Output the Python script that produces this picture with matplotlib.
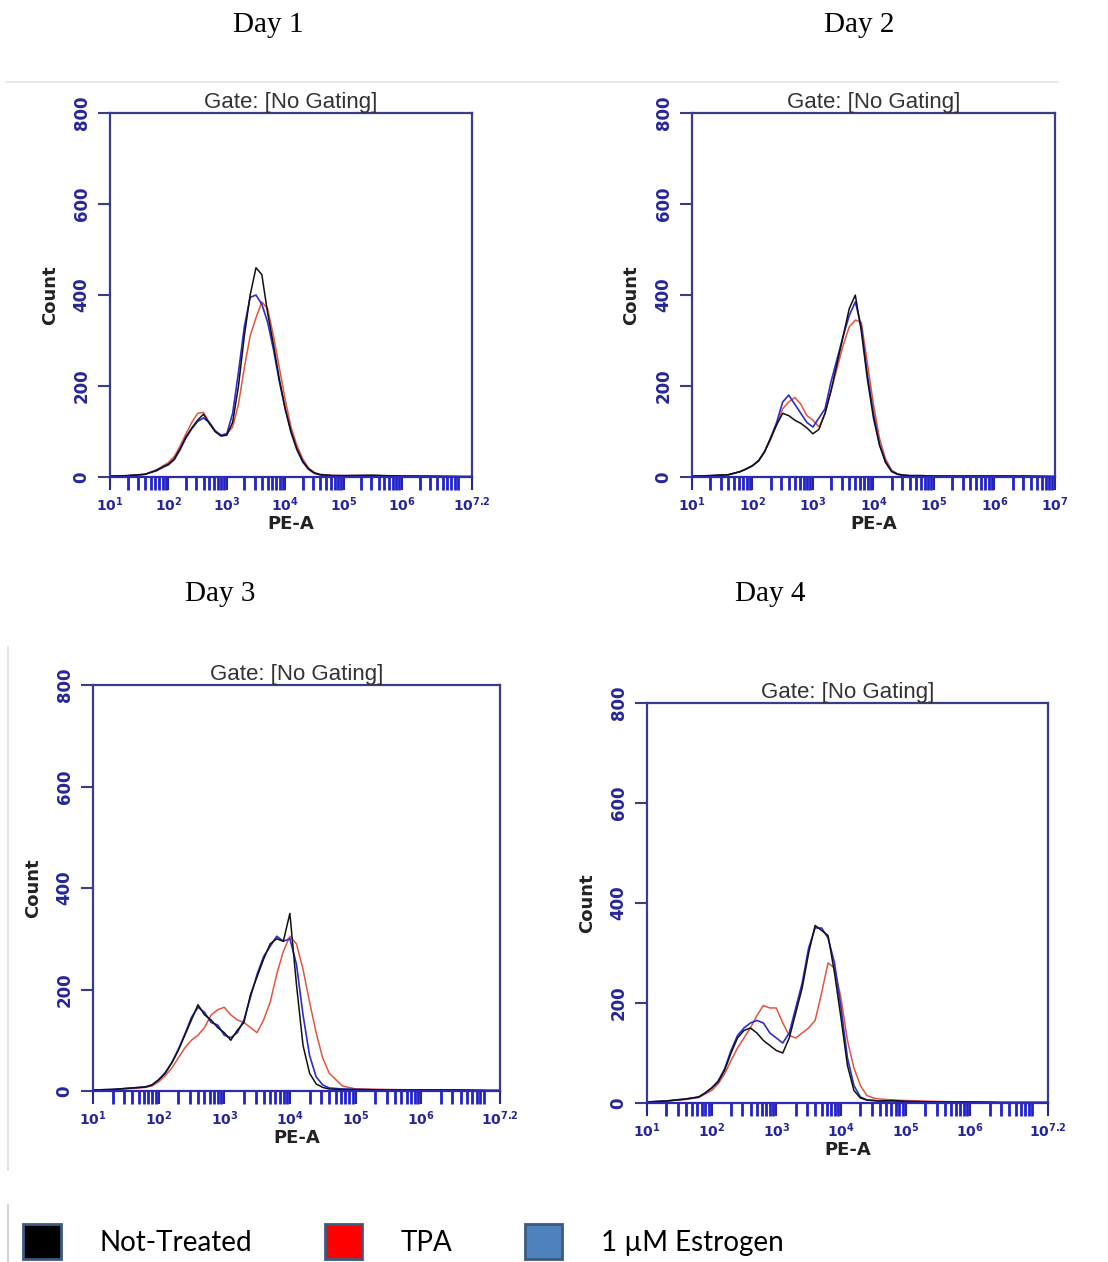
import numpy as np
import matplotlib
matplotlib.use("Agg")
from matplotlib import pyplot as plt
from matplotlib.patches import Patch
from matplotlib.lines import Line2D
from matplotlib.ticker import LogLocator, NullFormatter

# PE-A channel positions (log10 units), shared by every histogram
log_pe = [1.0, 1.3, 1.6, 1.8,
          1.9, 2.0, 2.1, 2.2, 2.3, 2.4, 2.5, 2.6, 2.7, 2.8, 2.9, 3.0, 3.1, 3.2,
          3.3, 3.4, 3.5, 3.6, 3.7, 3.8, 3.9, 4.0, 4.1, 4.2, 4.3, 4.4, 4.5, 4.6,
          4.8, 5.0, 5.5, 6.0, 6.5, 7.0, 7.2]

# Day 1 counts
day1_black = [2, 3, 6, 15, 22, 28, 40, 62, 88, 108, 125, 138, 118, 100, 90, 92, 120, 200,
              310, 400, 460, 445, 360, 290, 215, 150, 100, 62, 35, 18, 9, 5, 3, 3, 4, 2, 2, 1, 1]
day1_red = [2, 3, 6, 16, 24, 32, 45, 68, 95, 120, 140, 142, 120, 100, 92, 95, 110, 160,
            240, 310, 350, 385, 370, 310, 240, 170, 110, 70, 40, 20, 10, 6, 4, 3, 3, 2, 2, 1, 1]
day1_blue = [2, 3, 6, 14, 21, 27, 38, 60, 86, 106, 122, 130, 120, 102, 92, 95, 140, 230,
             330, 395, 400, 380, 340, 280, 210, 150, 98, 60, 33, 17, 8, 5, 3, 3, 3, 2, 1, 1, 1]

# Day 2 counts
day2_black = [2, 3, 5, 12, 18, 25, 35, 55, 85, 115, 140, 135, 125, 118, 108, 95, 105, 140,
              190, 250, 310, 370, 400, 320, 215, 130, 70, 32, 12, 6, 4, 3, 3, 2, 2, 2, 2, 1, 1]
day2_red = [2, 3, 5, 12, 18, 24, 36, 56, 82, 115, 150, 165, 175, 160, 135, 125, 110, 140,
            190, 240, 290, 330, 345, 340, 250, 160, 85, 40, 15, 7, 4, 3, 3, 2, 2, 3, 2, 1, 1]
day2_blue = [2, 3, 5, 12, 18, 25, 36, 56, 86, 120, 165, 180, 160, 140, 120, 110, 130, 150,
             210, 260, 310, 355, 385, 330, 225, 140, 72, 34, 13, 6, 4, 3, 3, 2, 2, 2, 2, 1, 1]

# Day 3 counts
day3_black = [2, 3, 6, 8, 12, 22, 35, 55, 80, 110, 140, 170, 150, 140, 125, 115, 100, 120,
              135, 190, 225, 260, 290, 300, 295, 350, 210, 90, 35, 14, 7, 4, 3, 3, 2, 2, 2, 1, 1]
day3_red = [2, 3, 5, 7, 10, 18, 30, 45, 65, 85, 100, 110, 125, 150, 160, 165, 150, 140,
            135, 125, 115, 140, 175, 230, 275, 305, 290, 240, 175, 115, 65, 35, 10, 4, 3, 2, 2, 1, 1]
day3_blue = [2, 3, 6, 8, 12, 22, 36, 56, 82, 112, 145, 165, 155, 135, 130, 110, 105, 115,
             140, 185, 230, 265, 285, 305, 295, 300, 250, 150, 70, 28, 12, 6, 4, 3, 2, 2, 2, 1, 1]

# Day 4 counts
day4_black = [2, 4, 8, 12, 20, 30, 42, 65, 100, 130, 145, 150, 140, 125, 115, 105, 100, 130,
              180, 230, 300, 355, 345, 335, 260, 170, 75, 25, 10, 6, 5, 4, 5, 3, 2, 2, 1, 1, 1]
day4_red = [2, 4, 7, 11, 18, 25, 38, 58, 85, 110, 130, 150, 175, 195, 190, 190, 160, 135,
            130, 140, 150, 165, 220, 280, 270, 210, 125, 70, 35, 15, 10, 8, 6, 5, 3, 2, 1, 1, 1]
day4_blue = [2, 4, 8, 12, 20, 30, 44, 68, 105, 135, 150, 160, 165, 160, 140, 130, 120, 140,
             190, 240, 310, 350, 350, 330, 280, 190, 90, 35, 12, 6, 5, 4, 4, 3, 2, 2, 1, 1, 1]

day_titles = ["Day 1", "Day 2", "Day 3", "Day 4"]
x_max = [7.2, 7.0, 7.2, 7.2]
legend_labels = ["Not-Treated", "TPA", "1 \u00b5M Estrogen"]

spine_col = "#3b3b8c"
tick_col = "#26269a"

fig = plt.figure(figsize=(11.08, 12.62), dpi=100)

# faint screenshot borders
fig.add_artist(Line2D([0.005, 0.955], [0.935, 0.935], color="#e4e4e4", lw=1.2))
fig.add_artist(Line2D([0.007, 0.007], [0.073, 0.487], color="#dddddd", lw=1.2))
fig.add_artist(Line2D([0.007, 0.007], [0.0, 0.045], color="#cccccc", lw=1.2))

# axes boxes [left, bottom, width, height] and day-label positions
boxes = [[0.0993, 0.622, 0.3267, 0.2884],
         [0.6245, 0.622, 0.3276, 0.2884],
         [0.0839, 0.1355, 0.3673, 0.3217],
         [0.5839, 0.126, 0.3619, 0.317]]
day_pos = [(0.242, 0.980), (0.775, 0.980), (0.199, 0.529), (0.695, 0.529)]

series = [(day1_black, day1_red, day1_blue),
          (day2_black, day2_red, day2_blue),
          (day3_black, day3_red, day3_blue),
          (day4_black, day4_red, day4_blue)]

xs = 10 ** np.array(log_pe)

for i, (blk, red, blu) in enumerate(series):
    ax = fig.add_axes(boxes[i])
    ax.plot(xs, red, color="#e2553f", lw=1.1)
    ax.plot(xs, blu, color="#2c2ccf", lw=1.2)
    ax.plot(xs, blk, color="#111111", lw=1.1)
    ax.set_xscale("log")
    ax.set_xlim(10 ** 1, 10 ** x_max[i])
    ax.set_ylim(0, 800)

    ticks = [1, 2, 3, 4, 5, 6, 7] if x_max[i] == 7.0 else [1, 2, 3, 4, 5, 6, 7.2]
    ax.set_xticks([10 ** t for t in ticks])
    ax.set_xticklabels(["$\\mathbf{10^{%g}}$" % t for t in ticks], fontsize=10, color=tick_col)
    ax.xaxis.set_minor_locator(LogLocator(base=10, subs=np.arange(2, 10), numticks=20))
    ax.xaxis.set_minor_formatter(NullFormatter())
    ax.tick_params(axis="x", which="major", direction="out", length=9, width=1.5,
                   color=tick_col, pad=4)
    ax.tick_params(axis="x", which="minor", direction="out", length=9, width=2.0,
                   color="#2222cc")

    ax.set_yticks([0, 200, 400, 600, 800])
    ax.set_yticklabels(["0", "200", "400", "600", "800"], rotation=90, va="center",
                       fontsize=12, color=tick_col, fontweight="bold")
    ax.tick_params(axis="y", direction="out", length=9, width=1.5, color=spine_col, pad=5)

    for s in ax.spines.values():
        s.set_color(spine_col)
        s.set_linewidth(1.6)
    ax.spines["bottom"].set_color("#2b2bb0")

    ax.set_xlabel("PE-A", fontsize=13, fontweight="bold", color="#222222", labelpad=1)
    ax.set_ylabel("Count", fontsize=13, fontweight="bold", color="#222222", labelpad=10)
    ax.set_title("Gate: [No Gating]", fontsize=16, color="#333333", pad=3,
                 family="Liberation Sans")

    fig.text(day_pos[i][0], day_pos[i][1], day_titles[i], fontsize=21,
             family="Liberation Serif", ha="center", va="center")

handles = [Patch(facecolor="#000000", edgecolor="#3c5a80", lw=2),
           Patch(facecolor="#ff0000", edgecolor="#3c5a80", lw=2),
           Patch(facecolor="#4f81bd", edgecolor="#3c5a80", lw=2)]
fig.legend(handles, legend_labels, loc="lower left", bbox_to_anchor=(0.021, 0.002),
           ncol=3, frameon=False, borderpad=0, borderaxespad=0,
           prop={"family": "Lato", "size": 20},
           handlelength=1.35, handleheight=1.6, handletextpad=1.4, columnspacing=2.6)

fig.savefig("out.png", dpi=100)
